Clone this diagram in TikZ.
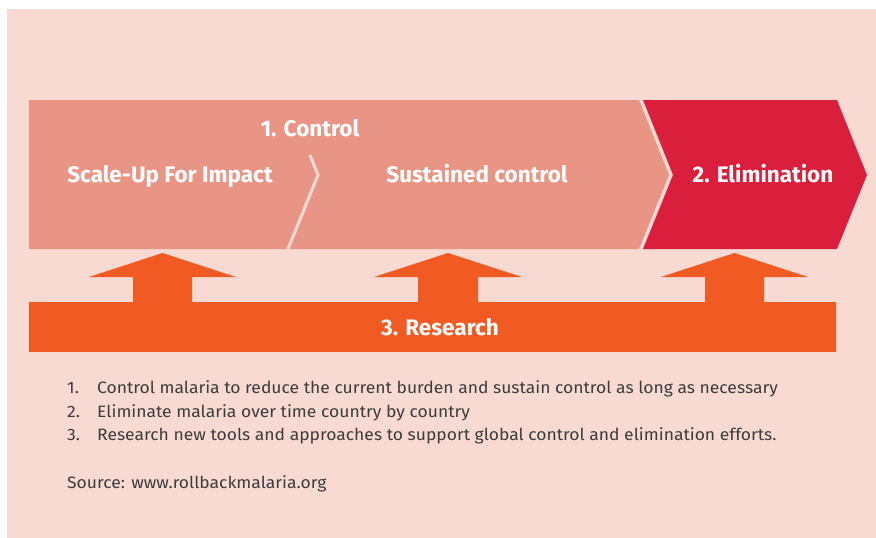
\documentclass[tikz,border=0pt]{standalone}
\usepackage{fontspec}
\setmainfont{Fira Sans}
\newfontfamily\notefont{Fira Sans}[FakeStretch=1.06]
\definecolor{bgpink}{HTML}{F8DAD3}
\definecolor{ctrlpink}{HTML}{E99586}
\definecolor{elimred}{HTML}{DA1F3D}
\definecolor{resorange}{HTML}{F15A22}
\definecolor{textgray}{HTML}{3C3C3C}
\tikzset{phase/.style={text=white,inner sep=0pt,anchor=base,font=\bfseries\fontsize{22.5}{26}\selectfont},
         item/.style={text=textgray,inner sep=0pt,anchor=base west,font=\notefont\fontsize{16.5}{20}\selectfont},
         uparrow/.style={fill=resorange},
        }

\begin{document}
\begin{tikzpicture}[x=1pt,y=-1pt]
        \useasboundingbox (0,0) rectangle (876,538);
        \fill[bgpink] (7,9) rectangle (876,538);
        % phases
        \fill[ctrlpink] (29,100) -- (639,100) -- (669,175) -- (639,249) -- (29,249) -- cycle;
        \fill[elimred] (643,100) -- (837,100) -- (867,175) -- (837,249) -- (643,249) -- (673,175) -- cycle;
        \draw[bgpink,line width=3pt] (310,155) -- (318,175) -- (288,249);
        \node[phase](control)at(310,136){1. Control};
        \node[phase](scaleup)at(170,182){Scale-Up For Impact};
        \node[phase](sustained)at(477,182){Sustained control};
        \node[phase](elimination)at(763,182){2. Elimination};
        % research bar and arrows
        \fill[resorange] (29,302) rectangle (836,352);
        \fill[uparrow] (162.5,253) -- (236,277) -- (192,277) -- (192,303) -- (133,303) -- (133,277) -- (89,277) -- cycle;
        \fill[uparrow] (448,253) -- (522,277) -- (478,277) -- (478,303) -- (418,303) -- (418,277) -- (374,277) -- cycle;
        \fill[uparrow] (734.5,253) -- (808,277) -- (764,277) -- (764,303) -- (705,303) -- (705,277) -- (661,277) -- cycle;
        \node[phase](research)at(440,335){3. Research};
        % notes
        \node[item](n1)at(67,393){1.};
        \node[item](t1)at(97,393){Control malaria to reduce the current burden and sustain control as long as necessary};
        \node[item](n2)at(67,417){2.};
        \node[item](t2)at(97,417){Eliminate malaria over time country by country};
        \node[item](n3)at(67,440){3.};
        \node[item](t3)at(97,440){Research new tools and approaches to support global control and elimination efforts.};
        \node[item](source)at(67,488){Source: www.rollbackmalaria.org};
    \end{tikzpicture}
\end{document}
